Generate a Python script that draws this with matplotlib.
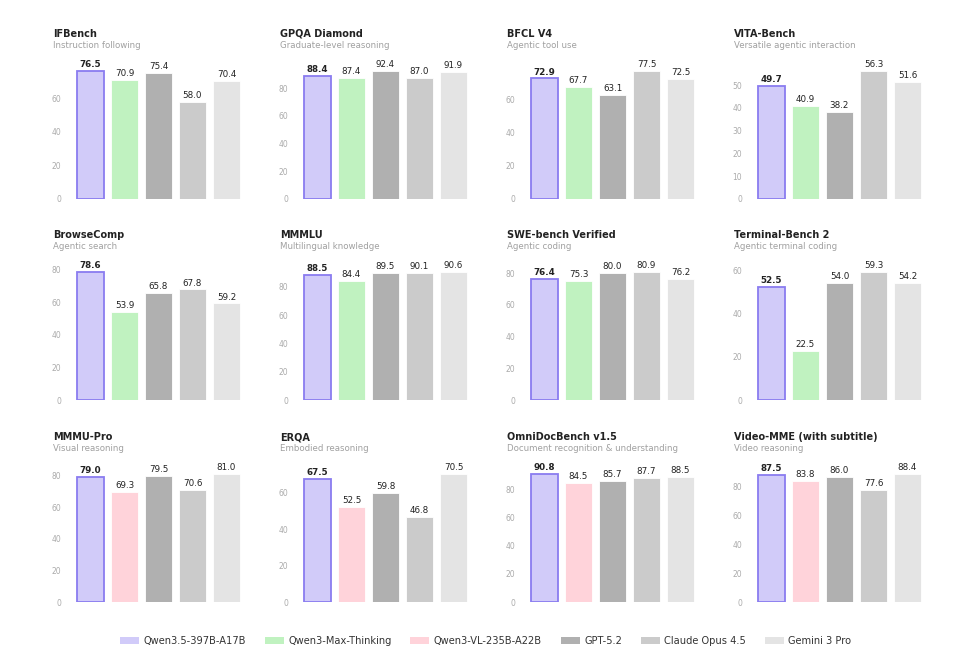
import matplotlib
matplotlib.use("Agg")
import matplotlib.pyplot as plt
from matplotlib.patches import Patch
from matplotlib.ticker import MaxNLocator

plt.rcParams['font.family'] = ['DejaVu Sans']

models = ["Qwen3.5-397B-A17B", "Qwen3-Max-Thinking", "Qwen3-VL-235B-A22B",
          "GPT-5.2", "Claude Opus 4.5", "Gemini 3 Pro"]
model_colors = ["#d1cbf9", "#c0f2c0", "#ffd3da", "#b0b0b0", "#cbcbcb", "#e4e4e4"]
edge_main = "#8a7cf0"

titles = ["IFBench", "GPQA Diamond", "BFCL V4", "VITA-Bench",
          "BrowseComp", "MMMLU", "SWE-bench Verified", "Terminal-Bench 2",
          "MMMU-Pro", "ERQA", "OmniDocBench v1.5", "Video-MME (with subtitle)"]
subtitles = ["Instruction following", "Graduate-level reasoning", "Agentic tool use",
             "Versatile agentic interaction",
             "Agentic search", "Multilingual knowledge", "Agentic coding",
             "Agentic terminal coding",
             "Visual reasoning", "Embodied reasoning",
             "Document recognition & understanding", "Video reasoning"]
# which models appear in each panel (indices into models)
panel_models = [[0, 1, 3, 4, 5]] * 8 + [[0, 2, 3, 4, 5]] * 4
values = [
    [76.5, 70.9, 75.4, 58.0, 70.4],
    [88.4, 87.4, 92.4, 87.0, 91.9],
    [72.9, 67.7, 63.1, 77.5, 72.5],
    [49.7, 40.9, 38.2, 56.3, 51.6],
    [78.6, 53.9, 65.8, 67.8, 59.2],
    [88.5, 84.4, 89.5, 90.1, 90.6],
    [76.4, 75.3, 80.0, 80.9, 76.2],
    [52.5, 22.5, 54.0, 59.3, 54.2],
    [79.0, 69.3, 79.5, 70.6, 81.0],
    [67.5, 52.5, 59.8, 46.8, 70.5],
    [90.8, 84.5, 85.7, 87.7, 88.5],
    [87.5, 83.8, 86.0, 77.6, 88.4],
]

W, H = 958, 664
fig = plt.figure(figsize=(W / 100, H / 100), dpi=100)

col_left = [73.5, 300.5, 527.5, 754.5]
row_bottom = [199, 400, 602]
ax_w, ax_h = 170, 132

for i, (t, st, pm, vals) in enumerate(zip(titles, subtitles, panel_models, values)):
    r, c = divmod(i, 4)
    left = col_left[c] / W
    bottom = (H - row_bottom[r]) / H
    ax = fig.add_axes([left, bottom, ax_w / W, ax_h / H])
    xs = list(range(len(vals)))
    cols = [model_colors[m] for m in pm]
    edges = [edge_main] + ["white"] * (len(vals) - 1)
    lws = [1.3] + [0.6] * (len(vals) - 1)
    ax.bar(xs, vals, width=0.8, color=cols, edgecolor=edges, linewidth=lws)
    for j, (x, v) in enumerate(zip(xs, vals)):
        ax.text(x, v + max(vals) * 0.015, f"{v:.1f}", ha="center", va="bottom",
                fontsize=6.3, color="#222222",
                fontweight="bold" if j == 0 else "normal", clip_on=False)
    ax.set_xlim(-0.5, len(vals) - 0.5)
    ax.set_ylim(0, max(vals) * 1.03)
    ax.yaxis.set_major_locator(MaxNLocator(nbins=6, steps=[1, 2, 2.5, 5, 10]))
    ax.set_xticks([])
    for s in ax.spines.values():
        s.set_visible(False)
    ax.tick_params(axis="y", length=0, labelsize=5.5, labelcolor="#ababab", pad=9)
    tx = (col_left[c] - 20.5) / W
    ty_top = row_bottom[r] - 162
    fig.text(tx, (H - ty_top) / H, t, fontsize=7.0, fontweight="bold",
             color="#222222", ha="left", va="baseline")
    fig.text(tx, (H - ty_top - 11.3) / H, st, fontsize=6.2,
             color="#a0a0a0", ha="left", va="baseline")

handles = [Patch(facecolor=c, edgecolor="none") for c in model_colors]
fig.legend(handles, models, loc="center", bbox_to_anchor=(0.507, (H - 641) / H),
           ncol=6, frameon=False, fontsize=7.1, handlelength=1.93, handleheight=0.62,
           columnspacing=1.9, handletextpad=0.45, labelcolor="#333333",
           borderpad=0, borderaxespad=0)

fig.savefig("out.png", dpi=100, facecolor="white")
